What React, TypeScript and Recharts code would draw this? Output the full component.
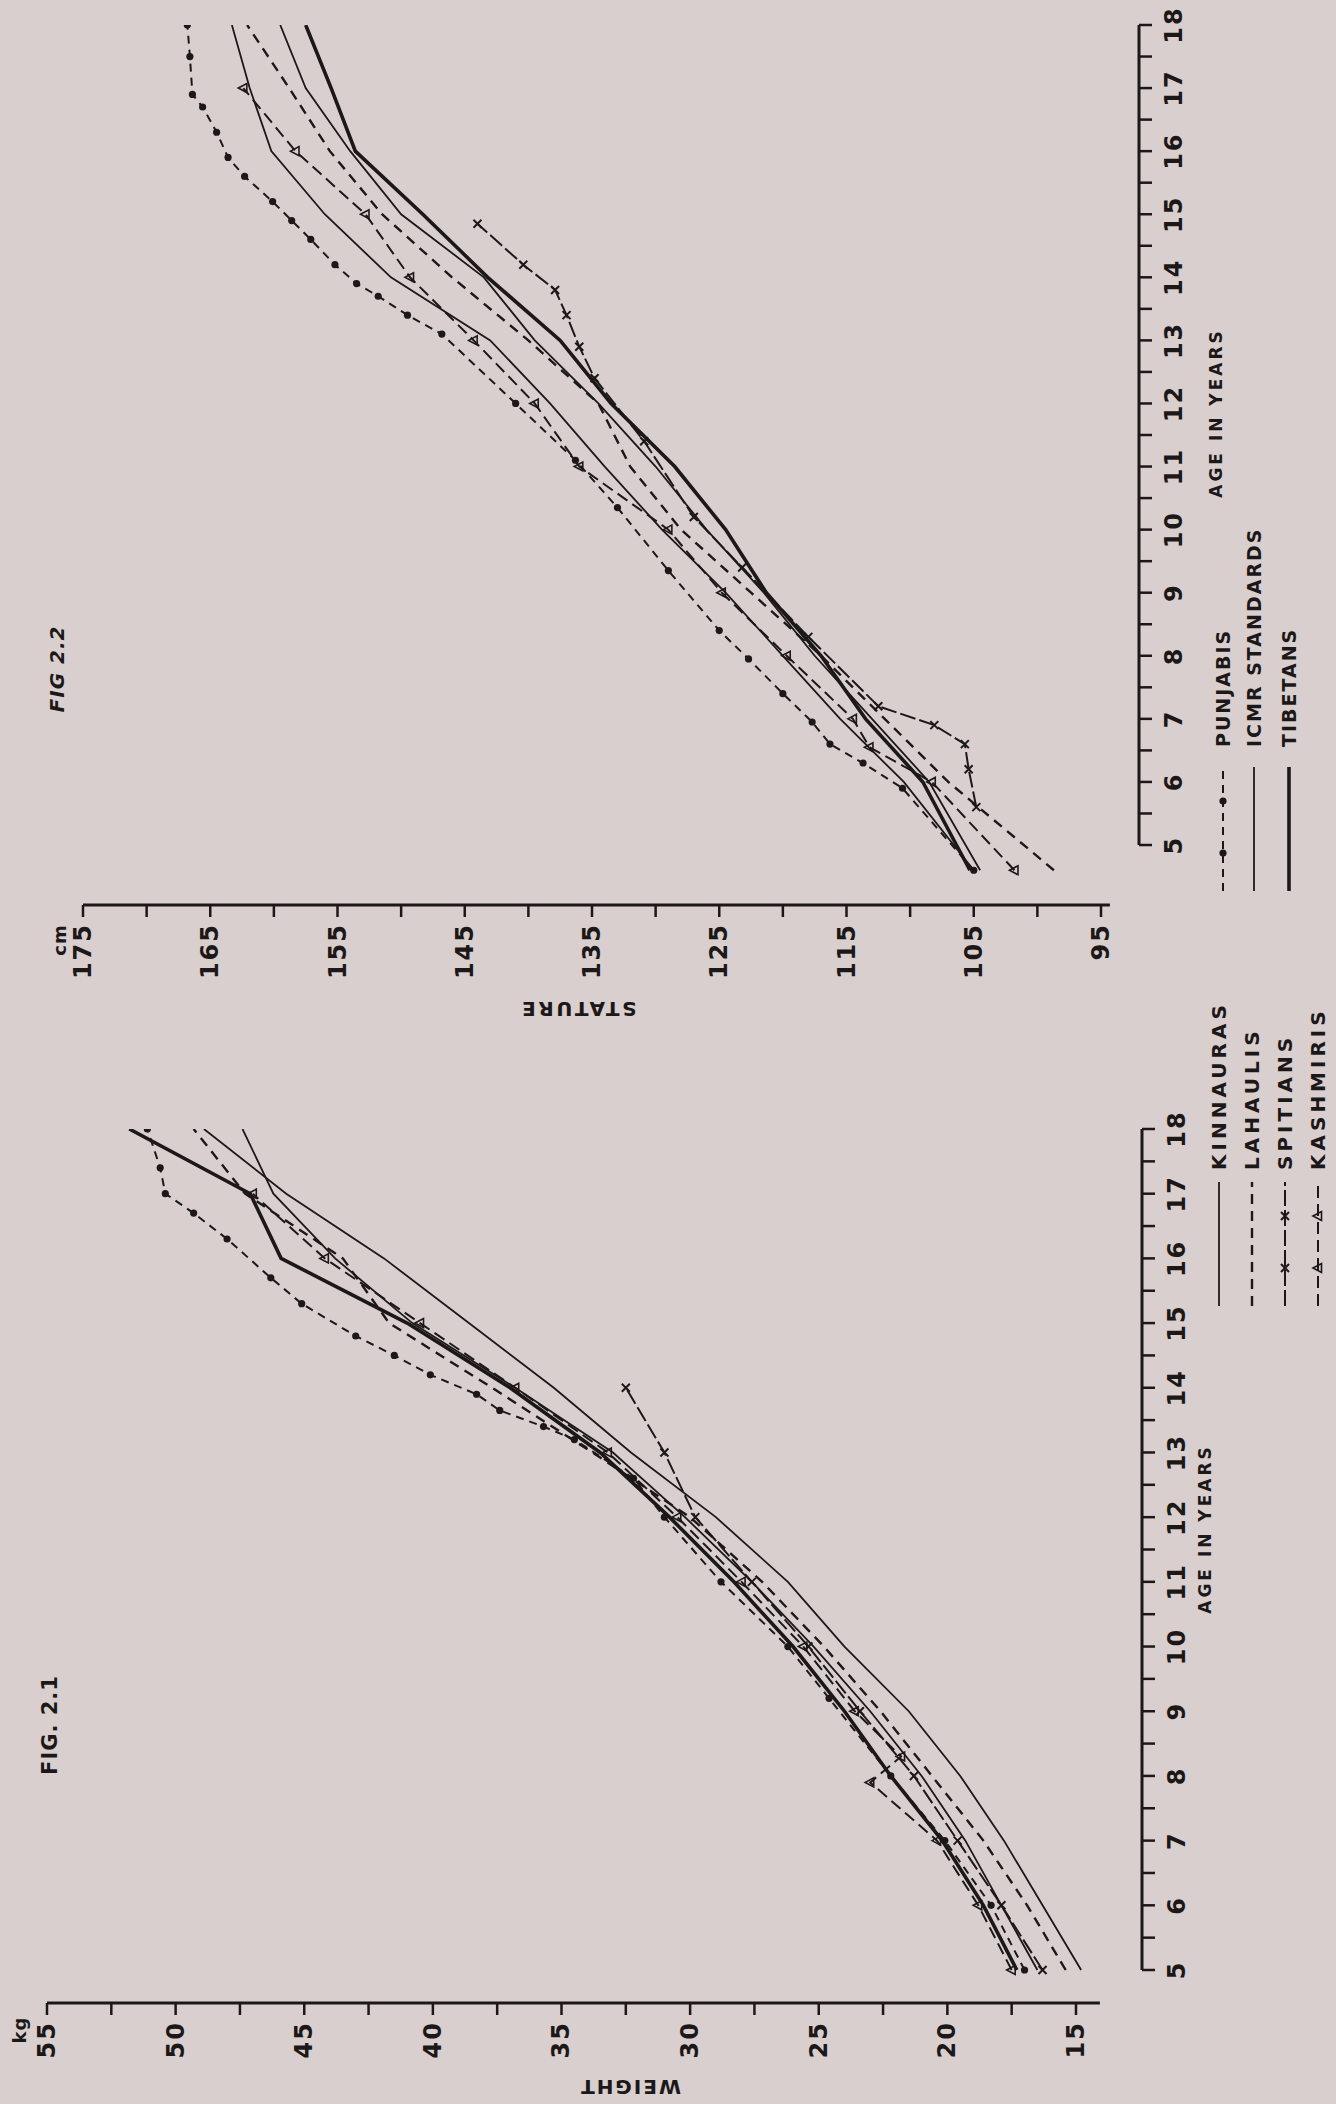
import React from 'react';
import { LineChart, Line, XAxis, YAxis, ReferenceLine } from 'recharts';

const INK = '#1d1818';
const PAPER = '#d9cfcf';
const FONT = '"DejaVu Sans", "Liberation Sans", sans-serif';

// ---------- Fig. 2.1 : weight (kg) by age ----------
const ageYears = [5, 6, 7, 8, 9, 10, 11, 12, 13, 14, 15, 16, 17, 18];
const weightKinnauras = [14.8, 16.3, 17.8, 19.5, 21.5, 24.0, 26.2, 29.0, 32.3, 35.3, 38.6, 41.9, 45.7, 48.9];
const weightLahaulis = [15.4, 16.9, 18.6, 20.6, 22.6, 24.8, 27.2, 30.0, 33.8, 37.7, 41.7, 43.5, 47.3, 49.3];
const weightIcmr = [16.5, 17.9, 19.3, 21.0, 23.0, 25.2, 27.6, 30.2, 33.0, 36.8, 40.8, 43.8, 46.2, 47.4];
const weightTibetans = [17.3, 18.6, 20.2, 22.2, 24.0, 26.0, 28.3, 30.8, 33.5, 37.0, 41.0, 45.9, 47.1, 51.8];
const spitiAgesW = [5, 6, 7, 8, 9, 10, 11, 12, 13, 14];
const weightSpitians = [16.3, 17.9, 19.6, 21.3, 23.4, 25.4, 27.6, 29.8, 31.0, 32.5];
const kashmirAgesW = [5, 6, 7, 7.9, 8.3, 9, 10, 11, 12, 13, 14, 15, 16, 17];
const weightKashmiris = [17.5, 18.8, 20.4, 23.0, 21.8, 23.6, 25.6, 28.0, 30.5, 33.2, 36.8, 40.5, 44.2, 47.0];
const punjabAgesW = [5, 6, 7, 8, 9.2, 10, 11, 12, 12.6, 13.2, 13.4, 13.65, 13.9, 14.2, 14.5, 14.8, 15.3, 15.7, 16.3, 16.7, 17.0, 17.4, 18.0];
const weightPunjabis = [17.0, 18.3, 20.1, 22.2, 24.6, 26.2, 28.8, 31.0, 32.2, 34.5, 35.7, 37.4, 38.3, 40.1, 41.5, 43.0, 45.1, 46.3, 48.0, 49.3, 50.4, 50.6, 51.1];

// ---------- Fig. 2.2 : stature (cm) by age ----------
const ageYearsSt = [4.6, 6, 7, 8, 9, 10, 11, 12, 13, 14, 15, 16, 17, 18];
const statureIcmr = [105.0, 110.5, 115.5, 120.0, 124.5, 129.5, 134.0, 138.3, 143.0, 150.8, 156.0, 160.2, 161.9, 163.3];
const statureLahaulis = [98.7, 107.0, 112.0, 117.0, 122.5, 128.0, 132.0, 134.5, 140.0, 146.0, 151.5, 155.6, 158.8, 162.1];
const statureKinnauras = [104.5, 108.5, 113.0, 117.5, 121.5, 126.0, 130.0, 134.5, 139.5, 143.5, 150.0, 154.0, 157.5, 159.5];
const statureTibetans = [105.3, 109.0, 113.5, 117.0, 121.3, 124.5, 128.5, 133.5, 137.5, 143.2, 148.3, 153.6, 155.5, 157.5];
const kashmirAgesSt = [4.6, 6, 6.55, 7, 8, 9, 10, 11, 12, 13, 14, 15, 16, 17];
const statureKashmiris = [101.8, 108.3, 113.2, 114.5, 119.7, 124.8, 129.0, 136.0, 139.5, 144.3, 149.3, 152.8, 158.3, 162.4];
const spitiAgesSt = [5.6, 6.2, 6.6, 6.9, 7.2, 8.3, 9.4, 10.2, 11.4, 12.4, 12.9, 13.4, 13.8, 14.2, 14.85];
const statureSpitians = [104.8, 105.4, 105.7, 108.1, 112.5, 118.0, 123.2, 127.0, 130.9, 134.8, 136.0, 137.0, 137.9, 140.4, 144.0];
const punjabAgesSt = [4.6, 5.9, 6.3, 6.6, 6.95, 7.4, 7.95, 8.4, 9.35, 10.35, 11.1, 12.0, 13.1, 13.4, 13.7, 13.9, 14.2, 14.6, 14.9, 15.2, 15.6, 15.9, 16.3, 16.7, 16.9, 17.5, 18.0];
const staturePunjabis = [105.0, 110.6, 113.7, 116.3, 117.7, 120.0, 122.7, 125.0, 129.0, 133.0, 136.3, 141.0, 146.8, 149.5, 151.8, 153.5, 155.2, 157.1, 158.6, 160.1, 162.3, 163.6, 164.5, 165.6, 166.4, 166.6, 166.8];

// ticks
const halfYears = Array.from({ length: 27 }, (_, i) => 5 + i * 0.5);
const weightTicks = Array.from({ length: 17 }, (_, i) => 15 + i * 2.5);
const statureTicks = Array.from({ length: 17 }, (_, i) => 95 + i * 5);

type Style = { width: number; dash?: string; marker?: 'circle' | 'cross' | 'triangle' };
const STY: Record<string, Style> = {
  kinnauras: { width: 1.8 },
  lahaulis: { width: 2.4, dash: '10 7' },
  spitians: { width: 2, dash: '16 4', marker: 'cross' },
  kashmiris: { width: 2, dash: '12 6', marker: 'triangle' },
  punjabis: { width: 2, dash: '8 6', marker: 'circle' },
  icmr: { width: 1.8 },
  tibetans: { width: 3.6 },
};

const pts = (ages: number[], vals: number[]) => ages.map((age, i) => ({ age, v: vals[i] }));

const marker = (kind: string | undefined, cx: number, cy: number, key: any) => {
  if (kind === 'circle') return <circle key={key} cx={cx} cy={cy} r={3.6} fill={INK} />;
  if (kind === 'cross')
    return <path key={key} d={`M${cx - 4},${cy - 4}L${cx + 4},${cy + 4}M${cx - 4},${cy + 4}L${cx + 4},${cy - 4}`} stroke={INK} strokeWidth={2} />;
  if (kind === 'triangle')
    return <path key={key} d={`M${cx},${cy - 5}L${cx + 4.5},${cy + 3.5}L${cx - 4.5},${cy + 3.5}Z`} fill="none" stroke={INK} strokeWidth={1.6} />;
  return <g key={key} />;
};

const dotFor = (kind?: string) => (p: any) =>
  p.cx == null || p.cy == null ? <g key={p.index} /> : marker(kind, p.cx, p.cy, p.index);

const fig1Series = [
  { name: 'kinnauras', data: pts(ageYears, weightKinnauras) },
  { name: 'lahaulis', data: pts(ageYears, weightLahaulis) },
  { name: 'icmr', data: pts(ageYears, weightIcmr) },
  { name: 'tibetans', data: pts(ageYears, weightTibetans) },
  { name: 'spitians', data: pts(spitiAgesW, weightSpitians) },
  { name: 'kashmiris', data: pts(kashmirAgesW, weightKashmiris) },
  { name: 'punjabis', data: pts(punjabAgesW, weightPunjabis) },
];
const fig2Series = [
  { name: 'icmr', data: pts(ageYearsSt, statureIcmr) },
  { name: 'lahaulis', data: pts(ageYearsSt, statureLahaulis) },
  { name: 'kinnauras', data: pts(ageYearsSt, statureKinnauras) },
  { name: 'tibetans', data: pts(ageYearsSt, statureTibetans) },
  { name: 'kashmiris', data: pts(kashmirAgesSt, statureKashmiris) },
  { name: 'spitians', data: pts(spitiAgesSt, statureSpitians) },
  { name: 'punjabis', data: pts(punjabAgesSt, staturePunjabis) },
];

const AgeTick = (p: any) => {
  const v = p.payload.value;
  if (Math.abs(v - Math.round(v)) > 0.01) return <g />;
  return (
    <text x={p.x} y={p.y + 22} textAnchor="middle" dominantBaseline="central" fill={INK}
      style={{ fontFamily: FONT, fontSize: 24, fontWeight: 700, letterSpacing: 2 }}>{v}</text>
  );
};
const valueTick = (isMajor: (v: number) => boolean) => (p: any) => {
  const v = p.payload.value;
  if (!isMajor(v)) return <g />;
  return (
    <text x={p.x - 6} y={p.y} textAnchor="end" dominantBaseline="central" fill={INK}
      style={{ fontFamily: FONT, fontSize: 24, fontWeight: 700, letterSpacing: 2 }}>{v}</text>
  );
};

const Txt = ({ x, y, r = 0, size, ls = 1, italic = false, children }: any) => (
  <div style={{ position: 'absolute', left: x, top: y, transform: `translate(-50%, -50%) rotate(${r}deg)`,
    whiteSpace: 'nowrap', fontFamily: FONT, fontSize: size, fontWeight: 700, letterSpacing: ls,
    fontStyle: italic ? 'italic' : 'normal', color: INK, lineHeight: 1 }}>{children}</div>
);

const Swatch = ({ s }: { s: Style }) => (
  <svg width={128} height={20} style={{ display: 'block' }}>
    <line x1={2} y1={10} x2={126} y2={10} stroke={INK} strokeWidth={s.width} strokeDasharray={s.dash} />
    {s.marker ? [marker(s.marker, 40, 10, 'a'), marker(s.marker, 92, 10, 'b')] : null}
  </svg>
);

const LegendBox = ({ x, rows, size, ls }: any) => (
  <>
    {rows.map((r: any) => (
      <div key={r.label} style={{ position: 'absolute', left: x, top: r.y - 10, display: 'flex', alignItems: 'center' }}>
        <Swatch s={STY[r.key]} />
        <span style={{ marginLeft: r.gap, fontFamily: FONT, fontSize: size, fontWeight: 700, letterSpacing: ls, color: INK, lineHeight: 1 }}>{r.label}</span>
      </div>
    ))}
  </>
);

// chart drawn upright, then turned a quarter to match the scan
const Turned = ({ top, h, children }: any) => (
  <div style={{ position: 'absolute', left: 0, top, width: 1336, height: h }}>
    <div style={{ position: 'absolute', left: 0, top: 0, width: h, height: 1336,
      transform: `translateY(${h}px) rotate(-90deg)`, transformOrigin: '0 0' }}>
      {children}
    </div>
  </div>
);

const renderLines = (series: any[]) =>
  series.map((s) => {
    const st = STY[s.name];
    return (
      <Line key={s.name} data={s.data} dataKey="v" type="linear" stroke={INK} strokeWidth={st.width}
        strokeDasharray={st.dash} dot={dotFor(st.marker)} activeDot={false} isAnimationActive={false} />
    );
  });

const axisTick = { stroke: INK, strokeWidth: 2.5 };

function WeightFigure() {
  const yMin = 12.434, xMin = 4.49;
  return (
    <Turned top={960} h={1144}>
      <LineChart width={1144} height={1336} margin={{ top: 47, right: 169, bottom: 134, left: 1 }}>
        <XAxis type="number" dataKey="age" domain={[xMin, 18]} ticks={halfYears} interval={0} allowDataOverflow
          axisLine={false} tickLine={axisTick} tickSize={13} tickMargin={0} height={60} tick={<AgeTick />} />
        <YAxis type="number" domain={[yMin, 55]} ticks={weightTicks} interval={0} allowDataOverflow width={100}
          axisLine={false} tickLine={axisTick} tickSize={12} tickMargin={0} tick={valueTick((v) => v % 5 === 0)} />
        <ReferenceLine segment={[{ x: 5, y: yMin }, { x: 18, y: yMin }]} stroke={INK} strokeWidth={3} ifOverflow="visible" />
        <ReferenceLine segment={[{ x: xMin, y: 14.07 }, { x: xMin, y: 55 }]} stroke={INK} strokeWidth={3} ifOverflow="visible" />
        {renderLines(fig1Series)}
      </LineChart>
      <Txt x={379} y={50} size={21} ls={1}>FIG. 2.1</Txt>
      <Txt x={74} y={20} size={18}>kg</Txt>
      <Txt x={17} y={630} r={-90} size={20} ls={2}>WEIGHT</Txt>
      <Txt x={575} y={1205} size={17} ls={3}>AGE IN YEARS</Txt>
      <LegendBox x={796} size={20} ls={4} rows={[
        { key: 'kinnauras', label: 'KINNAURAS', y: 1219, gap: 10 },
        { key: 'lahaulis', label: 'LAHAULIS', y: 1252, gap: 10 },
        { key: 'spitians', label: 'SPITIANS', y: 1285, gap: 10 },
        { key: 'kashmiris', label: 'KASHMIRIS', y: 1318, gap: 10 },
      ]} />
    </Turned>
  );
}

function StatureFigure() {
  const yMin = 92.014, xMin = 4.049;
  return (
    <Turned top={0} h={1040}>
      <LineChart width={1040} height={1336} margin={{ top: 83, right: 25, bottom: 137, left: 35 }}>
        <XAxis type="number" dataKey="age" domain={[xMin, 18]} ticks={halfYears} interval={0} allowDataOverflow
          axisLine={false} tickLine={axisTick} tickSize={13} tickMargin={0} height={60} tick={<AgeTick />} />
        <YAxis type="number" domain={[yMin, 175]} ticks={statureTicks} interval={0} allowDataOverflow width={100}
          axisLine={false} tickLine={axisTick} tickSize={12} tickMargin={0} tick={valueTick((v) => (v - 95) % 10 === 0)} />
        <ReferenceLine segment={[{ x: 5, y: yMin }, { x: 18, y: yMin }]} stroke={INK} strokeWidth={3} ifOverflow="visible" />
        <ReferenceLine segment={[{ x: xMin, y: 94.3 }, { x: xMin, y: 175 }]} stroke={INK} strokeWidth={3} ifOverflow="visible" />
        {renderLines(fig2Series)}
      </LineChart>
      <Txt x={371} y={57} size={20} italic>FIG 2.2</Txt>
      <Txt x={100} y={60} size={18}>cm</Txt>
      <Txt x={31} y={578} r={-90} size={20} ls={2.5}>STATURE</Txt>
      <Txt x={627} y={1216} size={17} ls={3}>AGE IN YEARS</Txt>
      <LegendBox x={147} size={19} ls={2} rows={[
        { key: 'punjabis', label: 'PUNJABIS', y: 1223, gap: 18 },
        { key: 'icmr', label: 'ICMR STANDARDS', y: 1254, gap: 18 },
        { key: 'tibetans', label: 'TIBETANS', y: 1289, gap: 18 },
      ]} />
    </Turned>
  );
}

export default function App() {
  return (
    <div style={{ position: 'absolute', left: 0, top: 0, width: 1336, height: 2104, background: PAPER, overflow: 'hidden' }}>
      <StatureFigure />
      <WeightFigure />
    </div>
  );
}
